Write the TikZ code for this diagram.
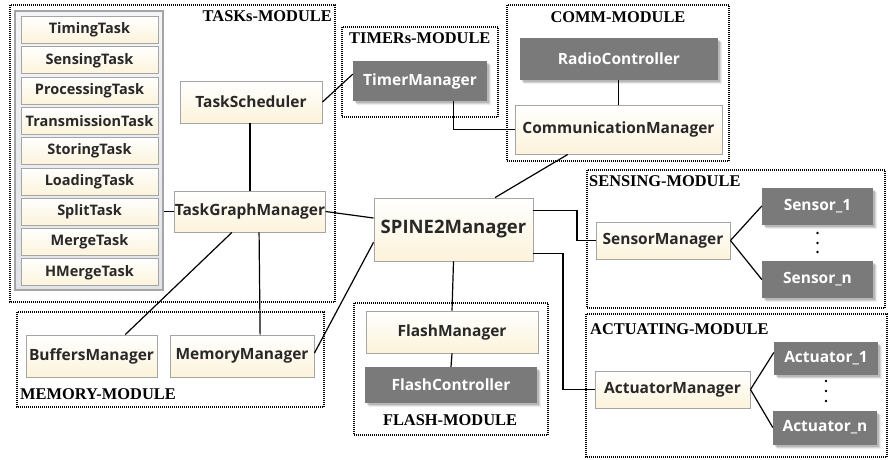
\documentclass[tikz,border=0pt]{standalone}
\usepackage{fontspec}
\setmainfont{Liberation Serif}
\newfontfamily\boxfont{Open Sans}
\usetikzlibrary{calc,shadows}

\definecolor{cream}{RGB}{252,243,218}
\definecolor{boxedge}{RGB}{165,165,165}
\definecolor{txt}{RGB}{40,40,40}
\definecolor{darkbox}{RGB}{122,122,122}
\definecolor{listtop}{RGB}{244,245,247}
\definecolor{listbot}{RGB}{224,227,232}

\begin{document}
\begin{tikzpicture}[x=1pt,y=-1pt,
  lite/.style={draw=boxedge, line width=0.9pt, top color=white, bottom color=cream,
    text=txt, inner sep=0pt, font=\boxfont\bfseries\fontsize{15.5}{18}\selectfont},
  tasklite/.style={lite, font=\boxfont\bfseries\fontsize{14.5}{17}\selectfont},
  dark/.style={fill=darkbox, text=white, inner sep=0pt,
    font=\boxfont\bfseries\fontsize{15.5}{18}\selectfont,
    drop shadow={shadow xshift=4pt, shadow yshift=-4pt, opacity=0.07, fill=black},
    drop shadow={shadow xshift=3pt, shadow yshift=-3pt, opacity=0.10, fill=black},
    drop shadow={shadow xshift=2pt, shadow yshift=-2pt, opacity=0.14, fill=black}},
  module/.style={draw=black, line width=1.2pt, dash pattern=on 1pt off 1pt},
  modlabel/.style={inner sep=0pt, font=\bfseries\fontsize{16.4}{18}\selectfont},
  link/.style={draw=black, line width=1.2pt},
  dot/.style={fill=black, circle, inner sep=0pt, minimum size=2.6pt}]

\useasboundingbox (0,0) rectangle (888,459);

% ---------- module frames ----------
\draw[module] (10,5) rectangle (335,302);
\draw[module] (342,27) rectangle (498,117);
\draw[module] (507,5) rectangle (729,161);
\draw[module] (587,170) rectangle (885,308);
\draw[module] (586,314) rectangle (887,457);
\draw[module] (17,312) rectangle (324,407);
\draw[module] (354,303) rectangle (548,435);

\node[modlabel, anchor=east] (lbtasks) at (332,16.5) {TASKs-MODULE};
\node[modlabel, anchor=west] (lbtimers) at (349,38) {TIMERs-MODULE};
\node[modlabel] (lbcomm) at (618,17) {COMM-MODULE};
\node[modlabel, anchor=west] (lbsens) at (589,181) {SENSING-MODULE};
\node[modlabel, anchor=west] (lbact) at (590,329) {ACTUATING-MODULE};
\node[modlabel, anchor=west] (lbmem) at (20,394) {MEMORY-MODULE};
\node[modlabel] (lbflash) at (450,420) {FLASH-MODULE};

% ---------- task list ----------
\node[draw=boxedge, line width=1.2pt, top color=listtop, bottom color=listbot,
      minimum width=148pt, minimum height=279pt, inner sep=0pt] (tasklist) at (89,150.5) {};
\foreach \t [count=\i from 0] in {TimingTask,SensingTask,ProcessingTask,TransmissionTask,
    StoringTask,LoadingTask,SplitTask,MergeTask,HMergeTask}
  \node[tasklite, minimum width=137pt, minimum height=27pt] (task\i) at (89.5,30+30.3*\i) {\t};

% ---------- manager boxes ----------
\node[lite, minimum width=142pt, minimum height=42pt] (sched) at (251,102) {TaskScheduler};
\node[lite, minimum width=150pt, minimum height=41pt] (graph) at (250,211.5) {TaskGraphManager};
\node[dark, minimum width=134pt, minimum height=40pt] (timer) at (420,81) {TimerManager};
\node[dark, minimum width=198pt, minimum height=42pt] (radio) at (619,59) {RadioController};
\node[lite, minimum width=207pt, minimum height=49pt] (comm) at (618.5,129.5) {CommunicationManager};
\node[lite, minimum width=159pt, minimum height=63pt,
      font=\boxfont\bfseries\fontsize{18.5}{22}\selectfont] (spine) at (453.5,229.5) {SPINE2Manager};
\node[lite, minimum width=172pt, minimum height=42pt] (flashm) at (452,332) {FlashManager};
\node[dark, minimum width=172pt, minimum height=36pt] (flashc) at (451,385) {FlashController};
\node[lite, minimum width=134pt, minimum height=37pt] (sensm) at (663,240.5) {SensorManager};
\node[dark, minimum width=111pt, minimum height=37pt] (sens1) at (817.5,206) {Sensor\_1};
\node[dark, minimum width=111pt, minimum height=37pt] (sensn) at (817.5,279.5) {Sensor\_n};
\node[lite, minimum width=155pt, minimum height=37pt] (actm) at (672.5,389.5) {ActuatorManager};
\node[dark, minimum width=104pt, minimum height=33pt] (act1) at (826,358.5) {Actuator\_1};
\node[dark, minimum width=104pt, minimum height=34pt] (actn) at (825,427.5) {Actuator\_n};
\node[lite, minimum width=131pt, minimum height=42pt] (buff) at (91.5,356) {BuffersManager};
\node[lite, minimum width=144pt, minimum height=42pt] (mem) at (242,356) {MemoryManager};

% vertical ellipses between numbered devices
\node[dot] (sd1) at (817.5,233) {};
\node[dot] (sd2) at (817.5,243) {};
\node[dot] (sd3) at (817.5,252) {};
\node[dot] (ad1) at (826,381) {};
\node[dot] (ad2) at (826,391) {};
\node[dot] (ad3) at (826,401) {};

% bend columns of the two elbow connectors
\coordinate (sbend) at (577,0);
\coordinate (abend) at (563,0);

% ---------- connectors ----------
\draw[link] (tasklist.east |- graph.west) -- (graph.west);
\draw[link] (sched.south -| graph.north) -- (graph.north);
\draw[link] (sched.east) -- ($(timer.north west)!0.33!(timer.south west)$);
\draw[link] ($(timer.south west)!0.75!(timer.south east)$) |- (comm.west);
\draw[link] (radio.south -| comm.north) -- (comm.north);
\draw[link] ($(comm.south west)!0.256!(comm.south east)$) -- ($(spine.north west)!0.76!(spine.north east)$);
\draw[link] (graph.east) -- ($(spine.north west)!0.32!(spine.south west)$);
\draw[link] ($(graph.south west)!0.38!(graph.south east)$) -- ($(buff.north west)!0.756!(buff.north east)$);
\draw[link] ($(graph.south west)!0.56!(graph.south east)$) -- ($(mem.north west)!0.625!(mem.north east)$);
\draw[link] ($(spine.north west)!0.70!(spine.south west)$) -- ($(mem.north east)!0.43!(mem.south east)$);
\draw[link] ($(spine.south west)!0.50!(spine.south east)$) -- (flashm.north);
\draw[link] (flashm.south) -- (flashc.north);
\draw[link] ($(spine.north east)!0.2!(spine.south east)$) -| (sbend |- sensm.west) -- (sensm.west);
\draw[link] ($(spine.north east)!0.87!(spine.south east)$) -| (abend |- actm.west) -- (actm.west);
\draw[link] (sensm.east) -- (sens1.west);
\draw[link] (sensm.east) -- (sensn.west);
\draw[link] (actm.east) -- ($(act1.north west)!0.32!(act1.south west)$);
\draw[link] (actm.east) -- (actn.west);

\end{tikzpicture}
\end{document}
